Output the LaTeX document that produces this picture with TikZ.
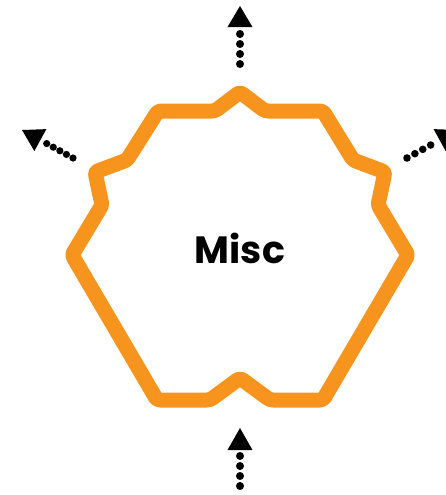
\documentclass[tikz,border=0pt]{standalone}
\usepackage{fontspec}
\setmainfont{Poppins}
\usetikzlibrary{calc}
\definecolor{misco}{RGB}{247,148,30}
\begin{document}
\begin{tikzpicture}[x=0.5pt,y=-0.5pt,
  outline/.style={draw=misco,line width=7.5pt,line join=round,rounded corners=1.5pt},
  dotsline/.style={line width=4pt,line cap=round,dash pattern=on 0pt off 5pt},
  headfill/.style={fill=black}]
\useasboundingbox (0,0) rectangle (446,495);
\clip (0,0) rectangle (446,495);
% outline shape
\draw[outline] (158,111) -- (215,111) -- (240,92) -- (265,111) -- (323,111)
  -- (353,160) -- (385,172) -- (378,205) -- (408,255) -- (323,400)
  -- (270,400) -- (240,378) -- (210,400) -- (157,400) -- (72,255)
  -- (102,205) -- (95,172) -- (127,160) -- cycle;
\node[font=\bfseries\fontsize{19}{19}\selectfont] (misc) at (240,248) {Misc};
% top arrow
\coordinate (tS) at (240,64);
\coordinate (tT) at (240,6);
\coordinate (tB) at ($(tS)!0.638!(tT)$);
\draw[dotsline] (tS) -- ($(tS)!0.55!(tT)$);
\fill[headfill] (tT) -- ($(tB)!6.25pt!90:(tT)$) -- ($(tB)!6.25pt!-90:(tT)$) -- cycle;
% bottom arrow
\coordinate (bS) at (240,486);
\coordinate (bT) at (240,428);
\coordinate (bB) at ($(bS)!0.62!(bT)$);
\draw[dotsline] (bS) -- ($(bS)!0.54!(bT)$);
\fill[headfill] (bT) -- ($(bB)!6.25pt!90:(bT)$) -- ($(bB)!6.25pt!-90:(bT)$) -- cycle;
% left arrow
\coordinate (lS) at (73,158);
\coordinate (lT) at (22,130);
\coordinate (lB) at ($(lS)!0.64!(lT)$);
\draw[dotsline,line width=3.6pt,dash pattern=on 0pt off 3.75pt] (lS) -- ($(lS)!0.53!(lT)$);
\fill[headfill] (lT) -- ($(lB)!6.25pt!90:(lT)$) -- ($(lB)!6.25pt!-90:(lT)$) -- cycle;
% right arrow
\coordinate (rS) at (407,158);
\coordinate (rT) at (458,130);
\coordinate (rB) at ($(rS)!0.64!(rT)$);
\draw[dotsline,line width=3.8pt,dash pattern=on 0pt off 4.5pt] (rS) -- ($(rS)!0.48!(rT)$);
\fill[headfill] (rT) -- ($(rB)!6.25pt!90:(rT)$) -- ($(rB)!6.25pt!-90:(rT)$) -- cycle;
\end{tikzpicture}
\end{document}
